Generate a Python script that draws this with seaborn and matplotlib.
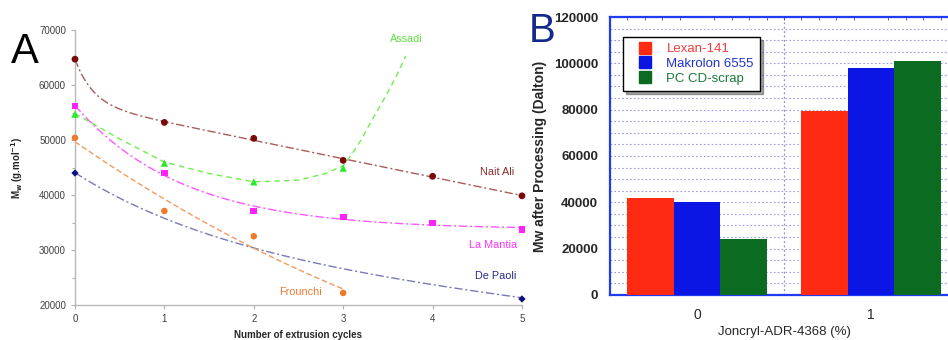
import numpy as np
import pandas as pd
import matplotlib
matplotlib.use('Agg')
import matplotlib.pyplot as plt
from matplotlib.lines import Line2D
from matplotlib.ticker import MultipleLocator
import seaborn as sns

# ---- panel A data (Mw vs number of extrusion cycles) ----
cycles = [0, 1, 2, 3, 4, 5]
nait_ali = [64700, 53200, 50300, 46300, 43400, 39850]
la_mantia = [56200, 44000, 37100, 36000, 34900, 33800]
assadi_x = [0, 1, 2, 3]
assadi = [54700, 45800, 42400, 44900]
frounchi_x = [0, 1, 2, 3]
frounchi = [50400, 37100, 32500, 22200]
depaoli_x = [0, 5]
depaoli = [44000, 21100]
# trend curves read off the picture where the markers alone don't define them
depaoli_trend = [44000, 36000, 30000, 26700, 23900, 21200]
assadi_trend_x = [0, 0.5, 1, 1.5, 2, 2.5, 2.8, 3.0, 3.1, 3.2, 3.3, 3.4, 3.5, 3.6, 3.7]
assadi_trend = [54800, 50200, 46000, 43900, 42400, 42700, 43900, 45300, 47500, 50000,
                53000, 55800, 58700, 61800, 65300]

# ---- panel B data ----
joncryl = ['0', '1']
lexan = [41800, 79400]
makrolon = [40300, 97900]
pc_scrap = [24200, 101100]


def decay_trend(x, y, xs):
    # y = a*exp(-k x) + b + c*x, k picked by least squares
    x = np.asarray(x, float)
    y = np.asarray(y, float)
    best = None
    for k in np.linspace(0.2, 5, 200):
        M = np.column_stack([np.exp(-k * x), np.ones_like(x), x])
        coef = np.linalg.lstsq(M, y, rcond=None)[0]
        err = np.sum((M @ coef - y) ** 2)
        if best is None or err < best[0]:
            best = (err, k, coef)
    _, k, c = best
    return c[0] * np.exp(-k * xs) + c[1] + c[2] * xs


sns.set_style('white')
plt.rcParams['font.family'] = ['Liberation Sans', 'DejaVu Sans']

fig = plt.figure(figsize=(9.48, 3.4), dpi=100)

# ================= panel A =================
axA = fig.add_axes([0.0791, 0.1029, 0.4715, 0.8088])
xf = np.linspace(0, 5, 200)
xf3 = np.linspace(0, 3, 120)
dashdot = (0, (6, 2, 1.5, 2))

sns.lineplot(x=xf, y=decay_trend(cycles, nait_ali, xf), ax=axA,
             color='#a85c5c', lw=1, linestyle=dashdot)
sns.lineplot(x=xf, y=decay_trend(cycles, la_mantia, xf), ax=axA,
             color='#ff55ff', lw=1, linestyle=dashdot)
sns.lineplot(x=xf, y=decay_trend(cycles, depaoli_trend, xf), ax=axA,
             color='#7a7ab8', lw=1, linestyle=dashdot)
sns.lineplot(x=xf3, y=np.polyval(np.polyfit(frounchi_x, frounchi, 2), xf3), ax=axA,
             color='#f29a5c', lw=1, linestyle=(0, (4, 2)))
sns.lineplot(x=assadi_trend_x, y=assadi_trend, ax=axA,
             color='#6fee4f', lw=1, linestyle=(0, (4, 3)))

sns.scatterplot(x=cycles, y=nait_ali, ax=axA, marker='o', color='#7a0a0a', s=24,
                edgecolor='none', zorder=4, clip_on=False)
sns.scatterplot(x=cycles, y=la_mantia, ax=axA, marker='s', color='#ff22ff', s=24,
                edgecolor='none', zorder=4, clip_on=False)
sns.scatterplot(x=assadi_x, y=assadi, ax=axA, marker='^', color='#2ee82e', s=28,
                edgecolor='none', zorder=4, clip_on=False)
sns.scatterplot(x=frounchi_x, y=frounchi, ax=axA, marker='o', color='#f07a2a', s=22,
                edgecolor='none', zorder=4, clip_on=False)
sns.scatterplot(x=depaoli_x, y=depaoli, ax=axA, marker='D', color='#10107a', s=14,
                edgecolor='none', zorder=4, clip_on=False)

lab_kw = dict(fontsize=7.8, ha='center', va='center')
axA.text(3.71, 68400, 'Assadi', color='#5fe040', **lab_kw)
axA.text(4.72, 44200, 'Nait Ali', color='#8b3030', **lab_kw)
axA.text(4.68, 30900, 'La Mantia', color='#ff33ff', **lab_kw)
axA.text(4.71, 25300, 'De Paoli', color='#2a2a8a', **lab_kw)
axA.text(2.52, 22300, 'Frounchi', color='#f07a30', **lab_kw)

axA.set_xlim(0, 5)
axA.set_ylim(20000, 70000)
axA.set_xticks(cycles)
axA.set_yticks(range(20000, 70001, 10000))
axA.yaxis.set_minor_locator(MultipleLocator(5000))
axA.tick_params(which='both', left=True, bottom=True, direction='out', color='#b0b0b0',
                labelsize=7, labelcolor='#404040', width=0.8)
axA.tick_params(which='major', length=3)
axA.tick_params(which='minor', length=2)
sns.despine(ax=axA)
for s in ['left', 'bottom']:
    axA.spines[s].set_color('#b8b8b8')
    axA.spines[s].set_linewidth(1)
axA.set_xlabel('Number of extrusion cycles', fontsize=7, fontweight='bold', labelpad=4)
axA.set_ylabel(r'M$_\mathbf{w}$ (g.mol$^\mathbf{-1}$)', fontsize=7, fontweight='bold', labelpad=10)

fig.text(0.011, 0.905, 'A', fontsize=30, va='top', ha='left', color='black')

# ================= panel B =================
blue_frame = '#1f3cf2'
bars = pd.DataFrame({
    'joncryl': joncryl * 3,
    'Mw': lexan + makrolon + pc_scrap,
    'grade': ['Lexan-141'] * 2 + ['Makrolon 6555'] * 2 + ['PC CD-scrap'] * 2,
})
palette = {'Lexan-141': '#ff2a12', 'Makrolon 6555': '#0c16e4', 'PC CD-scrap': '#0b6b20'}
text_cols = {'Lexan-141': '#f03c3c', 'Makrolon 6555': '#2233cc', 'PC CD-scrap': '#1a7a3a'}

axB = fig.add_axes([0.6435, 0.1324, 0.3671, 0.8176])
sns.barplot(data=bars, x='joncryl', y='Mw', hue='grade', palette=palette, ax=axB,
            width=0.8, linewidth=0, saturation=1, zorder=3, legend=False)
axB.set_xlim(-0.5, 1.5)
axB.set_ylim(0, 120000)
axB.set_yticks(range(0, 120001, 20000))
axB.yaxis.set_minor_locator(MultipleLocator(5000))
axB.xaxis.set_minor_locator(MultipleLocator(0.1))
axB.grid(True, which='both', axis='y', color='#9c9ce6', linestyle=(0, (1.5, 2)), lw=0.8, zorder=0)
axB.axvline(0.5, color='#8c8ce0', linestyle=(0, (1.5, 2)), lw=0.9, zorder=0)
axB.tick_params(axis='y', which='both', left=False, labelsize=9.5, pad=5)
axB.tick_params(axis='x', which='major', bottom=False, labelsize=10, pad=6)
axB.tick_params(axis='x', which='minor', top=True, bottom=False, direction='in',
                length=2.5, color='#3040c0', width=0.6)
for lab in axB.get_yticklabels():
    lab.set_fontweight('bold')
for s in axB.spines.values():
    s.set_color(blue_frame)
    s.set_linewidth(1.6)
axB.set_xlabel('Joncryl-ADR-4368 (%)', fontsize=9.5, labelpad=3)
axB.set_ylabel('Mw after Processing (Dalton)', fontsize=10, fontweight='bold', labelpad=5)

grades = list(palette)
handles = [Line2D([], [], marker='s', markersize=8.8, linestyle='none', color=palette[g])
           for g in grades]
leg = axB.legend(handles, grades, loc='upper left', bbox_to_anchor=(0.037, 0.928),
                 borderaxespad=0, fontsize=9.5, frameon=True, fancybox=False, shadow=True,
                 handlelength=2.5, handletextpad=0.35, labelspacing=0.2, borderpad=0.45)
leg.get_frame().set_edgecolor('black')
leg.get_frame().set_linewidth(1.0)
for t, g in zip(leg.get_texts(), grades):
    t.set_color(text_cols[g])

fig.text(0.558, 0.965, 'B', fontsize=29, va='top', ha='left', color='#13278f')

fig.savefig('out.png', dpi=100)
